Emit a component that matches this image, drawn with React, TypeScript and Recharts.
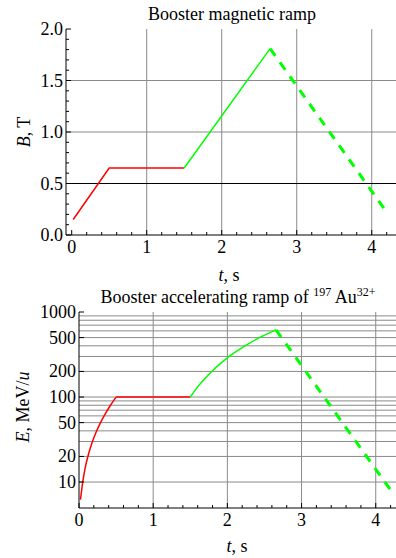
import React from 'react';
import { LineChart, Line, XAxis, YAxis, ReferenceLine } from 'recharts';

const FONT = 'Liberation Serif';

// ---- Top chart: magnetic field B (T) vs time t (s) ----
const bRampRed = [
  { t: 0.02, B: 0.15 },
  { t: 0.5, B: 0.65 },
  { t: 1.5, B: 0.65 },
];
const bRampGreen = [
  { t: 1.5, B: 0.65 },
  { t: 2.645, B: 1.81 },
];
const bRampDown = [
  { t: 2.645, B: 1.81 },
  { t: 4.22, B: 0.2 },
];

// ---- Bottom chart: energy E (MeV/u) vs time t (s) ----
const eRampRed = [
  { t: 0.02, E: 6.2 },
  { t: 0.05, E: 10 },
  { t: 0.08, E: 14.2 },
  { t: 0.12, E: 20 },
  { t: 0.17, E: 28 },
  { t: 0.23, E: 38.5 },
  { t: 0.29, E: 50 },
  { t: 0.35, E: 62.4 },
  { t: 0.42, E: 78.9 },
  { t: 0.5, E: 100 },
];
const eFlat = [
  { t: 0.5, E: 100 },
  { t: 1.5, E: 100 },
];
const eRampGreen = [
  { t: 1.5, E: 100 },
  { t: 1.6, E: 131.5 },
  { t: 1.7, E: 166 },
  { t: 1.8, E: 204 },
  { t: 1.9, E: 245 },
  { t: 2.0, E: 289 },
  { t: 2.1, E: 334 },
  { t: 2.2, E: 381 },
  { t: 2.3, E: 431 },
  { t: 2.4, E: 482 },
  { t: 2.5, E: 534 },
  { t: 2.6, E: 588 },
  { t: 2.655, E: 618 },
];
const eRampDown = [
  { t: 2.655, E: 618 },
  { t: 4.25, E: 7 },
];

// ---- Ticks / grid ----
const tMajor = [0, 1, 2, 3, 4];
const tAll = [0, 0.2, 0.4, 0.6, 0.8, 1, 1.2, 1.4, 1.6, 1.8, 2, 2.2, 2.4, 2.6, 2.8, 3, 3.2, 3.4, 3.6, 3.8, 4, 4.2];
const tGrid = [1, 2, 3, 4];
const bMajor = [0, 0.5, 1, 1.5, 2];
const bAll = [0, 0.1, 0.2, 0.3, 0.4, 0.5, 0.6, 0.7, 0.8, 0.9, 1, 1.1, 1.2, 1.3, 1.4, 1.5, 1.6, 1.7, 1.8, 1.9, 2];
const bGridGray = [1, 1.5];
const bGridBlack = [0.5];
const eMajor = [10, 20, 50, 100, 200, 500, 1000];
const eGrid = [10, 20, 30, 40, 50, 60, 70, 80, 90, 100, 200, 300, 400, 500, 600, 700, 800, 900];

const isMajor = (majors: number[], v: number) => majors.some((m) => Math.abs(m - v) < 1e-6);

const txt = { fontSize: 18, fontFamily: FONT, fill: '#000' };

const bottomTick = (majors: number[], fmt: (v: number) => string) => (p: any) => {
  const { x, y, payload } = p;
  const major = isMajor(majors, payload.value);
  return (
    <g>
      <line x1={x} x2={x} y1={y} y2={y - (major ? 5 : 3)} stroke="#000" strokeWidth={1} />
      {major && (
        <text x={x} y={y + 18} textAnchor="middle" {...txt}>
          {fmt(payload.value)}
        </text>
      )}
    </g>
  );
};

const topTick = (majors: number[]) => (p: any) => {
  const { x, y, payload } = p;
  const major = isMajor(majors, payload.value);
  return <line x1={x} x2={x} y1={y} y2={y + (major ? 5 : 3)} stroke="#000" strokeWidth={1} />;
};

const leftTick = (majors: number[], fmt: (v: number) => string) => (p: any) => {
  const { x, y, payload } = p;
  const major = isMajor(majors, payload.value);
  return (
    <g>
      <line x1={x} x2={x + (major ? 5 : 3)} y1={y} y2={y} stroke="#000" strokeWidth={1} />
      {major && (
        <text x={x - 3} y={y + 6} textAnchor="end" {...txt}>
          {fmt(payload.value)}
        </text>
      )}
    </g>
  );
};

const rightTick = (majors: number[]) => (p: any) => {
  const { x, y, payload } = p;
  const major = isMajor(majors, payload.value);
  return <line x1={x} x2={x - (major ? 5 : 3)} y1={y} y2={y} stroke="#000" strokeWidth={1} />;
};

const GRID = '#8a8a8a';

export default function App() {
  const tDomTop: [number, number] = [-0.076, 4.35];
  const tDomBot: [number, number] = [0, 4.3];
  const bDom: [number, number] = [0, 2];
  const eDom: [number, number] = [4.95, 1000];

  return (
    <div
      style={{
        position: 'absolute',
        left: 0,
        top: 0,
        width: 396,
        height: 558,
        overflow: 'hidden',
        background: '#fff',
      }}
    >
      <div style={{ position: 'absolute', left: 0, top: 0 }}>
        <LineChart width={400} height={280} margin={{ top: 29, right: 2, bottom: 0, left: 0 }}>
          <XAxis
            dataKey="t"
            type="number"
            domain={tDomTop}
            allowDataOverflow
            ticks={tAll}
            interval={0}
            tickSize={0}
            tickMargin={0}
            tickLine={false}
            height={45}
            axisLine={{ stroke: '#000' }}
            tick={bottomTick(tMajor, (v) => String(v))}
          />
          <XAxis
            xAxisId="top"
            orientation="top"
            dataKey="t"
            type="number"
            domain={tDomTop}
            allowDataOverflow
            ticks={tAll}
            interval={0}
            tickSize={0}
            tickMargin={0}
            tickLine={false}
            height={0}
            axisLine={{ stroke: '#000' }}
            tick={topTick(tMajor)}
          />
          <YAxis
            type="number"
            domain={bDom}
            allowDataOverflow
            ticks={bAll}
            interval={0}
            tickSize={0}
            tickMargin={0}
            tickLine={false}
            width={66}
            axisLine={{ stroke: '#000' }}
            tick={leftTick(bMajor, (v) => v.toFixed(1))}
          />
          <YAxis
            yAxisId="right"
            orientation="right"
            type="number"
            domain={bDom}
            allowDataOverflow
            ticks={bAll}
            interval={0}
            tickSize={0}
            tickMargin={0}
            tickLine={false}
            width={0}
            axisLine={{ stroke: '#000' }}
            tick={rightTick(bMajor)}
          />
          {tGrid.map((v) => (
            <ReferenceLine key={'tx' + v} x={v} stroke={GRID} strokeWidth={1} />
          ))}
          {bGridGray.map((v) => (
            <ReferenceLine key={'by' + v} y={v} stroke={GRID} strokeWidth={1} />
          ))}
          {bGridBlack.map((v) => (
            <ReferenceLine key={'bk' + v} y={v} stroke="#000" strokeWidth={1} />
          ))}
          <Line data={bRampRed} dataKey="B" type="linear" stroke="#ff0000" strokeWidth={1.5} dot={false} isAnimationActive={false} />
          <Line data={bRampGreen} dataKey="B" type="linear" stroke="#00ff00" strokeWidth={1.5} dot={false} isAnimationActive={false} />
          <Line data={bRampDown} dataKey="B" type="linear" stroke="#00ff00" strokeWidth={3} strokeDasharray="9 8" dot={false} isAnimationActive={false} />
        </LineChart>
      </div>

      <div style={{ position: 'absolute', left: 0, top: 280 }}>
        <LineChart width={400} height={278} margin={{ top: 32, right: 2, bottom: 0, left: 0 }}>
          <XAxis
            dataKey="t"
            type="number"
            domain={tDomBot}
            allowDataOverflow
            ticks={tAll}
            interval={0}
            tickSize={0}
            tickMargin={0}
            tickLine={false}
            height={50}
            axisLine={{ stroke: '#000' }}
            tick={bottomTick(tMajor, (v) => String(v))}
          />
          <XAxis
            xAxisId="top"
            orientation="top"
            dataKey="t"
            type="number"
            domain={tDomBot}
            allowDataOverflow
            ticks={tAll}
            interval={0}
            tickSize={0}
            tickMargin={0}
            tickLine={false}
            height={0}
            axisLine={{ stroke: '#000' }}
            tick={topTick(tMajor)}
          />
          <YAxis
            type="number"
            scale="log"
            domain={eDom}
            allowDataOverflow
            ticks={eMajor}
            interval={0}
            tickSize={0}
            tickMargin={0}
            tickLine={false}
            width={79}
            axisLine={{ stroke: '#000' }}
            tick={leftTick(eMajor, (v) => String(v))}
          />
          <YAxis
            yAxisId="right"
            orientation="right"
            type="number"
            scale="log"
            domain={eDom}
            allowDataOverflow
            ticks={eMajor}
            interval={0}
            tickSize={0}
            tickMargin={0}
            tickLine={false}
            width={0}
            axisLine={{ stroke: '#000' }}
            tick={rightTick(eMajor)}
          />
          {tGrid.map((v) => (
            <ReferenceLine key={'tx' + v} x={v} stroke={GRID} strokeWidth={1} />
          ))}
          {eGrid.map((v) => (
            <ReferenceLine key={'ey' + v} y={v} stroke={GRID} strokeWidth={1} />
          ))}
          <Line data={eRampRed} dataKey="E" type="monotone" stroke="#ff0000" strokeWidth={1.5} dot={false} isAnimationActive={false} />
          <Line data={eFlat} dataKey="E" type="linear" stroke="#ff0000" strokeWidth={1.5} dot={false} isAnimationActive={false} />
          <Line data={eRampGreen} dataKey="E" type="monotone" stroke="#00ff00" strokeWidth={1.5} dot={false} isAnimationActive={false} />
          <Line data={eRampDown} dataKey="E" type="linear" stroke="#00ff00" strokeWidth={3} strokeDasharray="9 8" dot={false} isAnimationActive={false} />
        </LineChart>
      </div>

      <svg
        width={396}
        height={558}
        style={{ position: 'absolute', left: 0, top: 0, pointerEvents: 'none' }}
      >
        <text x={232} y={20} textAnchor="middle" {...txt}>
          Booster magnetic ramp
        </text>
        <text x={229} y={281} textAnchor="middle" {...txt}>
          <tspan fontStyle="italic">t</tspan>, s
        </text>
        <text transform="translate(30,132) rotate(-90)" textAnchor="middle" {...txt}>
          <tspan fontStyle="italic">B</tspan>, T
        </text>

        <text x={238} y={302.5} textAnchor="middle" {...txt}>
          Booster accelerating ramp of{' '}
          <tspan fontSize={12} dy={-7}>197</tspan>
          <tspan dy={7}> Au</tspan>
          <tspan fontSize={12} dy={-7}>32+</tspan>
        </text>
        <text x={237} y={552} textAnchor="middle" {...txt}>
          <tspan fontStyle="italic">t</tspan>, s
        </text>
        <text transform="translate(29,407) rotate(-90)" textAnchor="middle" {...txt}>
          <tspan fontStyle="italic">E</tspan>, MeV/<tspan fontStyle="italic">u</tspan>
        </text>
      </svg>
    </div>
  );
}
